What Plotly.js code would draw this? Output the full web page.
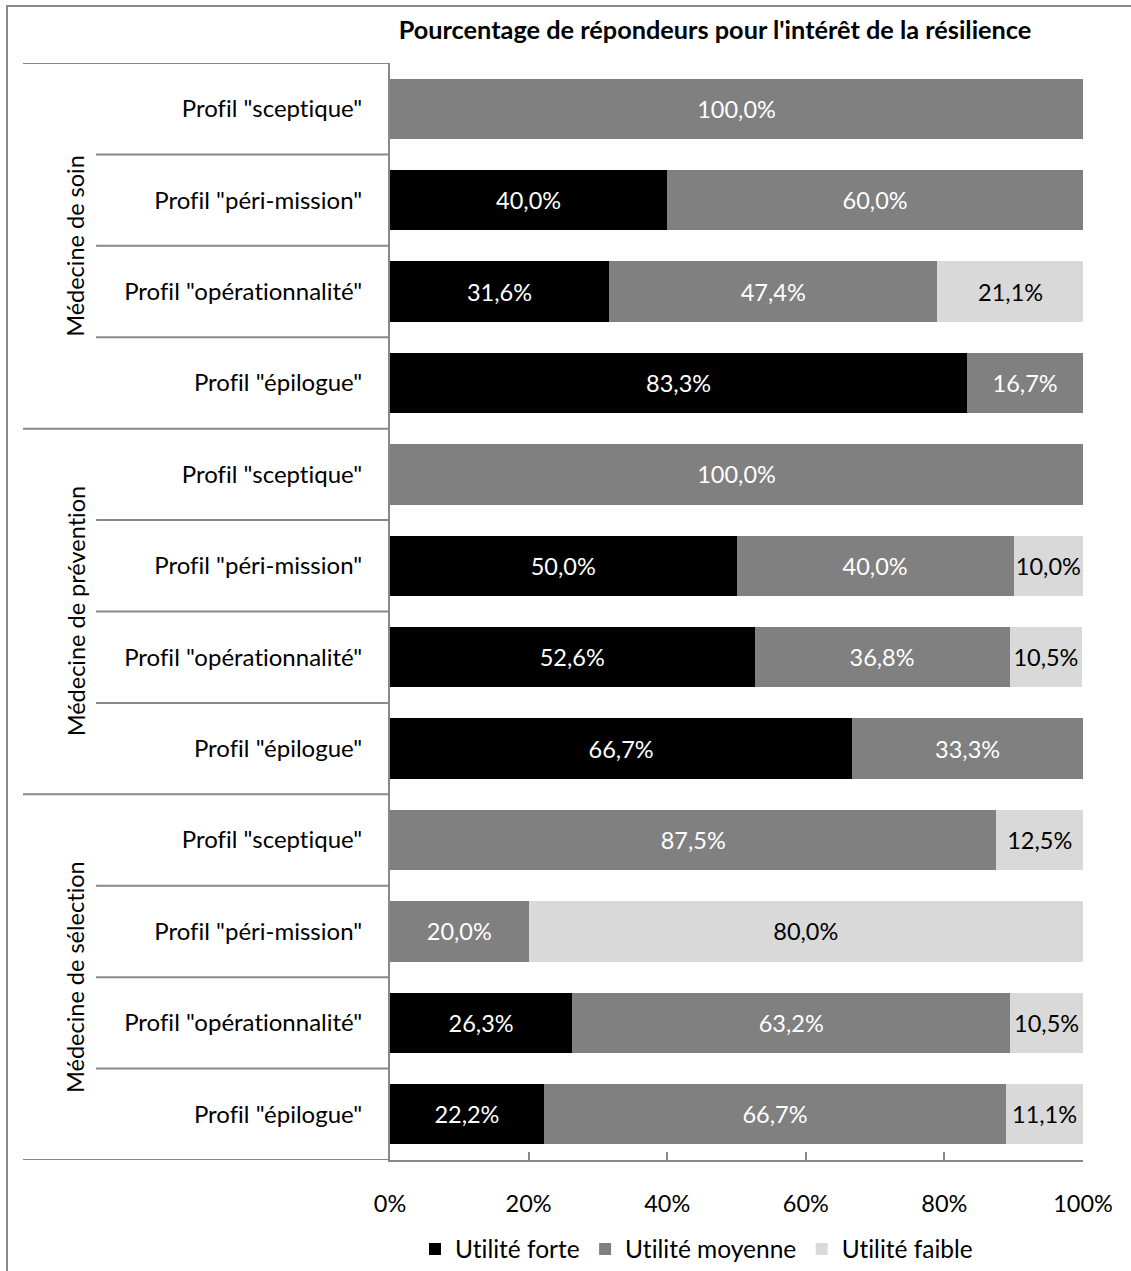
<!DOCTYPE html>
<html>
<head>
<meta charset="utf-8">
<script src="https://cdn.plot.ly/plotly-3.0.1.min.js"></script>
<style>
html,body{margin:0;padding:0;background:#fff;}
#wrap{position:relative;width:1131px;height:1271px;}
#chart{position:absolute;left:0;top:0;width:1131px;height:1271px;}
#chart text{font-variant-ligatures:none;font-feature-settings:"liga" 0;}
#frame{position:absolute;left:6px;top:5px;width:1131px;height:1271px;border-left:2px solid #888;border-top:2px solid #888;pointer-events:none;}
</style>
</head>
<body>
<div id="wrap"><div id="chart"></div><div id="frame"></div></div>
<script>
const groups = ["Médecine de soin", "Médecine de prévention", "Médecine de sélection"];
const profiles = ["Profil \"sceptique\"", "Profil \"péri-mission\"", "Profil \"opérationnalité\"", "Profil \"épilogue\""];
const seriesNames = ["Utilité forte", "Utilité moyenne", "Utilité faible"];
const seriesColors = ["#000000", "#808080", "#D9D9D9"];
const textColors = ["#FFFFFF", "#FFFFFF", "#000000"];
// rows ordered: soin (4), prévention (4), sélection (4)
const forte   = [0, 40.0, 31.6, 83.3,   0, 50.0, 52.6, 66.7,   0, 0, 26.3, 22.2];
const moyenne = [100.0, 60.0, 47.4, 16.7,   100.0, 40.0, 36.8, 33.3,   87.5, 20.0, 63.2, 66.7];
const faible  = [0, 0, 21.1, 0,   0, 10.0, 10.5, 0,   12.5, 80.0, 10.5, 11.1];
const xTickVals = [0, 20, 40, 60, 80, 100];
const xTickText = ["0%", "20%", "40%", "60%", "80%", "100%"];
const title = "Pourcentage de répondeurs pour l'intérêt de la résilience";

const FONT = "Lato, 'Open Sans', sans-serif";
const FS = 23.5;
const rowLabels = [];
groups.forEach(() => profiles.forEach(p => rowLabels.push(p)));
const rowIdx = rowLabels.map((_, i) => i);
const fmt = v => v > 0 ? v.toFixed(1).replace('.', ',') + '%' : '';

const allSeries = [forte, moyenne, faible];
const traces = allSeries.map((vals, s) => ({
  type: 'bar',
  orientation: 'h',
  name: seriesNames[s],
  x: vals,
  y: rowIdx,
  marker: {color: seriesColors[s], line: {width: 0}},
  text: vals.map(fmt),
  textposition: 'inside',
  insidetextanchor: 'middle',
  textangle: 0,
  constraintext: 'none',
  textfont: {family: FONT, size: FS, color: textColors[s]},
  hoverinfo: 'skip'
}));

// layout geometry
const L = 390, R = 48, T = 63, B = 111;
const plotW = 1131 - L - R, plotH = 1271 - T - B;
const px2paperX = px => (px - L) / plotW;
const py2paperY = py => (1271 - B - py) / plotH;

const shapes = [];
const nRows = rowLabels.length;
for (let i = 0; i <= nRows; i++) {
  const isGroup = (i % profiles.length === 0);
  shapes.push({
    type: 'line', xref: 'paper', yref: 'y',
    x0: px2paperX(isGroup ? 23 : 96), x1: 0,
    y0: i - 0.5, y1: i - 0.5,
    line: {color: '#888888', width: 2}
  });
}

const annotations = groups.map((g, gi) => ({
  text: g, xref: 'paper', yref: 'y',
  x: px2paperX(75), y: gi * profiles.length + (profiles.length - 1) / 2,
  textangle: -90, showarrow: false,
  xanchor: 'center', yanchor: 'middle',
  font: {family: FONT, size: FS, color: '#000'}
}));

const layout = {
  width: 1131, height: 1271,
  margin: {l: L, r: R, t: T, b: B, pad: 0, autoexpand: false},
  paper_bgcolor: '#fff', plot_bgcolor: '#fff',
  barmode: 'stack',
  bargap: 0.34,
  showlegend: true,
  title: {
    text: '<b>' + title + '</b>',
    font: {family: FONT, size: 25.3, color: '#000'},
    x: 715 / 1131, xanchor: 'center', xref: 'container',
    y: 1 - 30 / 1271, yanchor: 'middle', yref: 'container'
  },
  xaxis: {
    range: [0, 100], fixedrange: true,
    tickvals: xTickVals, ticktext: xTickText,
    ticks: 'inside', ticklen: 8, tickwidth: 2, tickcolor: '#888',
    ticklabelstandoff: 22,
    showgrid: false, zeroline: false,
    showline: true, linecolor: '#888', linewidth: 2,
    tickfont: {family: FONT, size: FS, color: '#000'}
  },
  yaxis: {
    range: [nRows - 0.5, -0.5], fixedrange: true,
    tickvals: rowIdx, ticktext: rowLabels,
    ticks: '', ticklabelstandoff: 21,
    showgrid: false, zeroline: false,
    showline: true, linecolor: '#888', linewidth: 2,
    tickfont: {family: FONT, size: 24, color: '#000'}
  },
  legend: {
    orientation: 'h', x: px2paperX(697), xanchor: 'center',
    y: py2paperY(1249), yanchor: 'middle',
    font: {family: FONT, size: 24.5, color: '#000'},
    traceorder: 'normal', itemwidth: 30
  },
  uniformtext: {mode: false},
  shapes: shapes,
  annotations: annotations
};

Plotly.newPlot('chart', traces, layout, {staticPlot: true, displayModeBar: false});
</script>
</body>
</html>
